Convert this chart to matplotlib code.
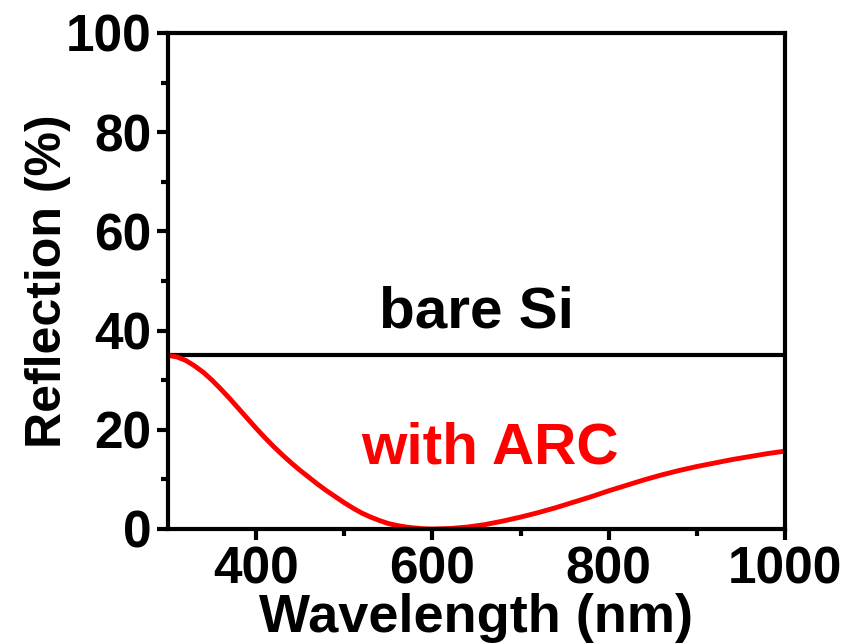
import matplotlib
matplotlib.use("Agg")
import matplotlib.pyplot as plt

wavelength = [300, 310, 320, 330, 340, 350, 360, 370, 380, 390, 400, 410, 420, 430, 440,
              450, 460, 470, 480, 490, 500, 510, 520, 530, 540, 550, 560, 570, 580, 590,
              600, 620, 640, 660, 680, 700, 720, 740, 760, 780, 800, 820, 840, 860, 880,
              900, 920, 940, 960, 980, 1000]
r_arc = [35.0, 34.7, 34.0, 32.9, 31.6, 30.0, 28.2, 26.3, 24.3, 22.3, 20.3, 18.4, 16.6, 14.9, 13.3,
         11.8, 10.4, 9.0, 7.7, 6.5, 5.3, 4.2, 3.2, 2.4, 1.7, 1.1, 0.7, 0.4, 0.2, 0.05,
         0.0, 0.1, 0.4, 0.9, 1.6, 2.4, 3.3, 4.3, 5.4, 6.5, 7.7, 8.8, 9.9, 10.9, 11.8,
         12.6, 13.3, 14.0, 14.6, 15.2, 15.7]
bare_x = [300, 1000]
bare_y = [35, 35]

xticks = [400, 600, 800, 1000]
yticks = [0, 20, 40, 60, 80, 100]

plt.rcParams['font.family'] = ['Liberation Sans', 'DejaVu Sans']
plt.rcParams['font.weight'] = 'bold'

fig = plt.figure(figsize=(8.55, 6.43), dpi=100)
ax = fig.add_axes([168/855, 1-529/643, (785-168)/855, (529-33)/643])

ax.plot(bare_x, bare_y, color='black', lw=3)
ax.plot(wavelength, r_arc, color='#ff0000', lw=3.5, solid_joinstyle='round')

ax.set_xlim(300, 1000)
ax.set_ylim(0, 100)
ax.set_xticks(xticks)
ax.set_yticks(yticks)
ax.set_xticks([500, 700, 900], minor=True)
ax.set_yticks([10, 30, 50, 70, 90], minor=True)
ax.tick_params(which='major', direction='out', length=8, width=3, labelsize=37, pad=4)
ax.tick_params(which='minor', direction='out', length=5, width=3)
for lab in ax.get_xticklabels() + ax.get_yticklabels():
    lab.set_fontweight('bold')
for s in ax.spines.values():
    s.set_linewidth(3)

ax.set_xlabel('Wavelength (nm)', fontsize=39, fontweight='bold', labelpad=-1)
ax.set_ylabel('Reflection (%)', fontsize=36, fontweight='bold', labelpad=-4)

ax.text(650, 40.7, 'bare Si', fontsize=42, fontweight='bold', color='black',
        ha='center', va='baseline')
ax.text(665, 13.3, 'with ARC', fontsize=42, fontweight='bold', color='#ff0000',
        ha='center', va='baseline')

fig.savefig('out.png', dpi=100)
